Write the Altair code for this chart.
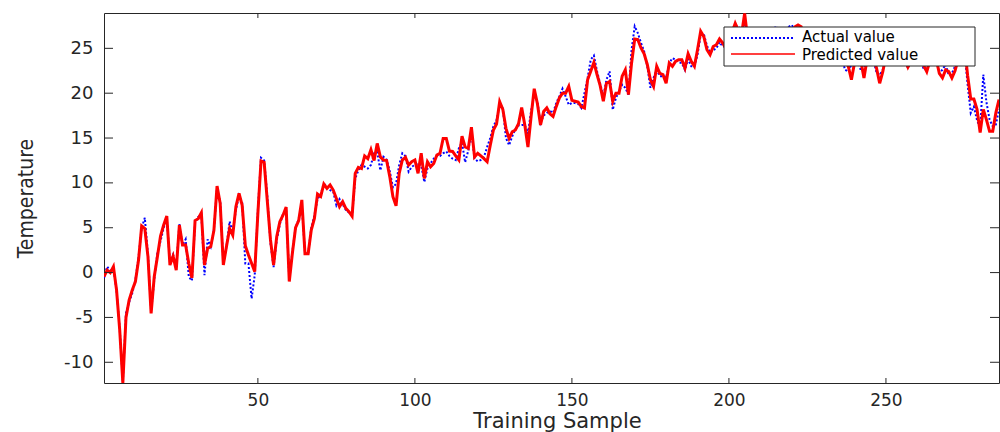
import altair as alt
import pandas as pd

# ---------------- data ----------------
actual = [
    -0.6, 0.66, 0.2, 0.5, -2.0, -6.2, -12.2, -4.5, -3.3, -2.3,
    -0.8, 1.7, 5.0, 6.1, 2.0, -4.3, -0.8, 2.2, 3.5, 5.0,
    6.0, 1.2, 2.0, 0.6, 5.4, 3.0, 3.7, -0.46, -0.9, 5.6,
    6.2, 6.5, -0.28, 3.7, 2.9, 4.8, 9.5, 7.9, 1.0, 2.9,
    5.7, 4.5, 7.0, 8.6, 7.8, 1.0, 1.0, -2.9, -0.3, 7.0,
    12.8, 12.5, 8.5, 3.3, 0.6, 3.6, 5.4, 6.5, 7.0, -0.8,
    2.4, 5.0, 6.0, 7.4, 2.3, 2.0, 5.0, 6.4, 8.2, 8.7,
    9.9, 9.6, 9.2, 9.0, 7.5, 8.2, 7.6, 7.0, 6.7, 6.4,
    10.5, 11.4, 12.0, 11.8, 11.6, 12.0, 13.3, 13.4, 11.4, 12.9,
    12.6, 11.3, 9.5, 9.9, 12.0, 13.3, 13.0, 11.25, 11.8, 12.0,
    12.17, 12.0, 10.1, 11.6, 12.17, 12.7, 13.0, 13.0, 13.3, 13.5,
    13.0, 12.7, 12.55, 13.85, 14.5, 12.3, 13.6, 15.7, 12.7, 12.4,
    12.55, 12.9, 14.0, 15.0, 16.3, 17.0, 18.7, 18.3, 15.0, 14.2,
    15.2, 16.0, 16.4, 16.45, 16.45, 15.5, 18.0, 19.8, 19.1, 16.7,
    17.5, 17.8, 18.0, 17.8, 18.9, 19.65, 20.5, 19.65, 18.7, 18.9,
    18.9, 18.8, 18.35, 20.0, 21.7, 23.74, 24.2, 22.44, 21.06, 19.65,
    21.5, 22.44, 18.16, 19.46, 20.2, 20.95, 20.6, 19.84, 24.85, 27.45,
    26.7, 25.6, 24.67, 23.0, 20.6, 21.7, 22.6, 21.9, 21.9, 21.7,
    23.37, 23.9, 23.74, 23.44, 23.37, 22.6, 23.8, 23.0, 23.0, 24.3,
    26.5, 26.6, 25.3, 24.5, 24.8, 25.0, 25.7, 25.2, 25.3, 26.0,
    26.5, 27.3, 27.5, 26.8, 28.0, 26.4, 25.3, 24.2, 25.8, 25.0,
    25.4, 26.0, 26.2, 26.8, 27.5, 26.0, 24.8, 26.3, 27.4, 27.6,
    27.0, 27.2, 26.6, 25.6, 25.4, 25.2, 24.4, 25.6, 26.3, 25.0,
    24.0, 25.2, 25.4, 24.6, 24.4, 23.8, 22.6, 22.4, 23.2, 23.8,
    24.0, 22.5, 23.0, 23.9, 24.4, 23.7, 22.3, 22.0, 22.6, 23.8,
    24.8, 25.6, 24.8, 25.0, 24.2, 23.6, 22.8, 23.9, 24.5, 25.0,
    24.2, 22.6, 22.9, 23.4, 24.6, 23.6, 22.3, 22.6, 23.2, 22.0,
    22.2, 23.0, 23.6, 24.6, 24.8, 21.0, 17.8, 18.5, 17.0, 16.1,
    22.06, 19.0, 17.05, 16.3, 16.5, 18.2,
]

predicted = [
    -0.46, 0.28, -0.01, 0.66, -1.95, -6.4, -12.3, -5.0, -3.06, -1.95,
    -1.0, 1.4, 5.19, 4.9, 1.77, -4.55, -0.46, 1.77, 4.07, 5.3,
    6.3, 0.84, 1.84, 0.28, 5.3, 3.07, 3.07, 1.0, -0.6, 5.8,
    6.0, 6.67, 0.84, 2.7, 2.9, 4.7, 9.65, 7.7, 0.84, 2.9,
    4.9, 4.18, 7.35, 8.83, 7.5, 3.0, 1.96, 1.03, 0.1, 6.6,
    12.45, 12.3, 8.0, 3.7, 0.84, 4.0, 5.67, 6.4, 7.3, -1.0,
    2.2, 5.0, 5.8, 8.1, 2.1, 2.1, 4.74, 6.04, 8.76, 8.5,
    9.87, 9.39, 9.76, 9.2, 8.27, 7.34, 7.9, 7.16, 6.8, 6.3,
    11.06, 11.73, 11.6, 13.0, 12.7, 13.7, 12.5, 14.4, 12.9, 12.55,
    12.5, 10.7, 8.46, 7.45, 11.06, 12.55, 12.85, 12.0, 12.36, 12.55,
    11.06, 13.3, 10.5, 12.36, 11.8, 12.17, 13.1, 13.3, 14.96, 14.96,
    13.55, 13.5, 13.0, 12.55, 15.2, 14.0, 13.85, 16.2, 12.9, 13.3,
    13.0, 12.7, 12.36, 14.2, 15.9, 16.56, 19.05, 18.2, 16.08, 14.96,
    15.7, 15.9, 16.6, 18.4, 16.45, 14.0, 17.4, 20.5, 18.86, 16.45,
    17.95, 18.35, 17.7, 17.4, 18.5, 19.46, 20.0, 20.0, 20.76, 19.2,
    19.1, 19.0, 18.5, 18.35, 21.5, 22.44, 23.44, 22.06, 20.84, 19.1,
    21.1, 21.3, 19.1, 20.0, 20.0, 21.9, 22.6, 19.84, 23.37, 26.04,
    25.97, 25.04, 24.4, 23.2, 21.5, 20.76, 23.0, 22.2, 22.06, 21.1,
    23.37, 23.0, 23.55, 23.74, 23.74, 22.8, 24.4, 23.55, 23.0, 24.85,
    26.9, 26.3, 24.85, 24.3, 25.2, 25.4, 26.04, 25.6, 25.0, 26.2,
    26.8, 27.8, 27.0, 26.5, 28.9, 26.0, 25.0, 24.5, 25.6, 24.8,
    25.8, 26.4, 25.5, 26.2, 26.6, 25.4, 24.6, 25.7, 26.5, 26.9,
    27.4, 27.6, 27.4, 26.0, 25.1, 25.6, 24.7, 25.3, 26.0, 25.2,
    24.3, 24.9, 25.6, 24.8, 24.0, 23.6, 23.8, 23.0, 21.5, 23.4,
    24.2, 23.6, 21.7, 23.8, 24.5, 24.0, 22.8, 21.1, 22.4, 24.2,
    25.0, 25.5, 24.6, 25.3, 24.5, 23.8, 22.9, 23.6, 24.7, 25.2,
    24.0, 23.1, 22.4, 23.6, 24.8, 23.8, 22.2, 21.7, 22.6, 22.4,
    21.7, 22.5, 23.8, 25.0, 25.2, 22.0, 19.35, 19.35, 18.2, 15.6,
    18.2, 17.05, 15.75, 15.75, 17.8, 19.3,
]

samples = list(range(1, len(actual) + 1))
x_ticks = [50, 100, 150, 200, 250]
y_ticks = [-10, -5, 0, 5, 10, 15, 20, 25]
legend_labels = ["Actual value", "Predicted value"]
x_title = "Training Sample"
y_title = "Temperature"

# ---------------- chart ----------------
W, H = 895, 370
AX = "#262626"
FONT = "DejaVu Sans"

df = pd.DataFrame({"sample": samples, "actual": actual, "predicted": predicted})
xs = alt.Scale(domain=[1, 286], nice=False, zero=False)
ys = alt.Scale(domain=[-12.31, 28.94], nice=False, zero=False)

x_axis = alt.Axis(values=x_ticks, ticks=False, tickSize=0, domain=False, grid=False,
                  labelFont=FONT, labelFontSize=17, labelColor=AX, labelPadding=9,
                  title=x_title, titleFont=FONT, titleFontSize=21, titleFontWeight="normal",
                  titleColor=AX, titleX=453, titleY=44, titleBaseline="alphabetic")
y_axis = alt.Axis(values=y_ticks, ticks=False, tickSize=0, domain=False, grid=False,
                  labelFont=FONT, labelFontSize=18, labelColor=AX, labelPadding=11,
                  labelExpr="'' + datum.value",
                  title=y_title, titleFont="Liberation Sans Narrow, DejaVu Sans Condensed, sans-serif",
                  titleFontSize=21, titleFontWeight="normal", titleColor=AX,
                  titleX=-78, titleY=185, titleBaseline="middle", titleAlign="center")

blue = alt.Chart(df).mark_line(color="#0000FF", strokeWidth=2, strokeDash=[2, 2], clip=True).encode(
    x=alt.X("sample:Q", scale=xs, axis=x_axis),
    y=alt.Y("actual:Q", scale=ys, axis=y_axis),
)
red = alt.Chart(df).mark_line(color="#FF0000", strokeWidth=3, clip=True).encode(
    x=alt.X("sample:Q", scale=xs),
    y=alt.Y("predicted:Q", scale=ys),
)

xt = pd.DataFrame({"sample": x_ticks})
yt = pd.DataFrame({"actual": y_ticks})
tick_b = alt.Chart(xt).mark_rule(color=AX, strokeWidth=1).encode(
    x=alt.X("sample:Q", scale=xs), y=alt.value(H), y2=alt.value(H - 5))
tick_t = alt.Chart(xt).mark_rule(color=AX, strokeWidth=1).encode(
    x=alt.X("sample:Q", scale=xs), y=alt.value(0), y2=alt.value(5))
tick_l = alt.Chart(yt).mark_rule(color=AX, strokeWidth=1).encode(
    y=alt.Y("actual:Q", scale=ys), x=alt.value(0), x2=alt.value(9))
tick_r = alt.Chart(yt).mark_rule(color=AX, strokeWidth=1).encode(
    y=alt.Y("actual:Q", scale=ys), x=alt.value(W), x2=alt.value(W - 9))

one = pd.DataFrame({"k": [0]})
leg_box = alt.Chart(one).mark_rect(fill="white", stroke=AX, strokeWidth=1).encode(
    x=alt.value(620), x2=alt.value(871), y=alt.value(14), y2=alt.value(53))
leg_blue = alt.Chart(one).mark_rule(color="#0000FF", strokeWidth=2, strokeDash=[2, 2]).encode(
    x=alt.value(627), x2=alt.value(691), y=alt.value(25))
leg_red = alt.Chart(one).mark_rule(color="#FF0000", strokeWidth=1.5).encode(
    x=alt.value(627), x2=alt.value(691), y=alt.value(41))
leg_t1 = alt.Chart(one).mark_text(text=legend_labels[0], font=FONT, fontSize=15, color="black",
                                  align="left", baseline="middle").encode(
    x=alt.value(698), y=alt.value(24))
leg_t2 = alt.Chart(one).mark_text(text=legend_labels[1], font=FONT, fontSize=15, color="black",
                                  align="left", baseline="middle").encode(
    x=alt.value(698), y=alt.value(42))

chart = alt.layer(
    blue, red, tick_b, tick_t, tick_l, tick_r,
    leg_box, leg_blue, leg_red, leg_t1, leg_t2,
).properties(
    width=W, height=H,
    padding={"left": 104, "top": 13, "right": 1, "bottom": 49},
    autosize="none",
    background="white",
).configure_view(stroke=AX, strokeWidth=1)

chart.save("out.html", embed_options={"renderer": "svg", "actions": False})
